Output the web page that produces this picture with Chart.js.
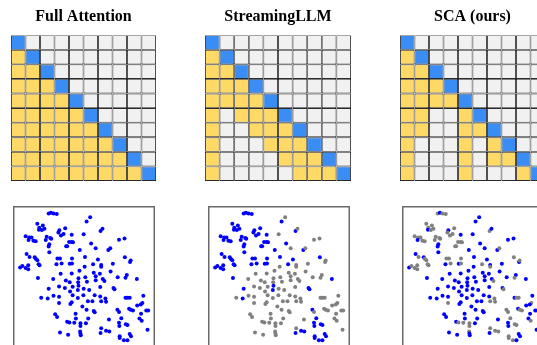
<!DOCTYPE html>
<html><head><meta charset="utf-8">
<script src="https://cdn.jsdelivr.net/npm/chart.js@4.4.0/dist/chart.umd.min.js"></script>
<style>
html,body{margin:0;padding:0;width:537px;height:345px;overflow:hidden;background:#fff;}
canvas{position:absolute;}
</style></head><body>
<canvas id="m0" width="145" height="181" style="left:11px;top:0px"></canvas>
<canvas id="m1" width="146" height="181" style="left:205px;top:0px"></canvas>
<canvas id="m2" width="145" height="181" style="left:400px;top:0px"></canvas>
<canvas id="s0" width="146" height="146" style="left:11px;top:204px"></canvas>
<canvas id="s1" width="146" height="146" style="left:206px;top:204px"></canvas>
<canvas id="s2" width="146" height="146" style="left:400px;top:204px"></canvas>
<script>
// ---- data ----
const panelTitles = ['Full Attention', 'StreamingLLM', 'SCA (ours)'];
const queryRows = ['q1','q2','q3','q4','q5','q6','q7','q8','q9','q10'];
const keyCols = ['k1','k2','k3','k4','k5','k6','k7','k8','k9','k10'];
// B = current token, Y = attended, . = masked
const fullMask = [
  'B.........',
  'YB........',
  'YYB.......',
  'YYYB......',
  'YYYYB.....',
  'YYYYYB....',
  'YYYYYYB...',
  'YYYYYYYB..',
  'YYYYYYYYB.',
  'YYYYYYYYYB'
];
const streamingMask = [
  'B.........',
  'YB........',
  'YYB.......',
  'YYYB......',
  'YYYYB.....',
  'Y.YYYB....',
  'Y..YYYB...',
  'Y...YYYB..',
  'Y....YYYB.',
  'Y.....YYYB'
];
const scaMask = [
  'B.........',
  'YB........',
  'YYB.......',
  'YYYB......',
  'YYYYB.....',
  'YY..YB....',
  'YY..YYB...',
  'Y...Y.YB..',
  'Y...Y.YYB.',
  'Y...Y...YB'
];
const tsneX = [113,120,128,138,230,241,78,95,84,83,92,100,146,143,151,159,164,221,273,279,
  42,53,60,51,66,73,107,104,118,121,184,176,184,188,170,167,115,113,115,244,
  258,330,347,209,297,303,45,54,70,73,78,82,85,25,32,42,50,50,140,148,
  137,153,185,178,185,225,224,208,265,250,275,275,348,364,366,311,150,184,252,271,
  304,354,80,127,166,178,205,204,226,231,258,258,280,285,326,350,385,113,145,163,
  187,179,205,203,221,238,272,313,316,90,110,128,145,145,187,203,220,234,180,184,
  248,255,272,288,290,275,350,356,363,405,402,397,386,414,217,230,252,255,133,139,
  196,197,235,170,177,192,325,330,361,366,373,398,420,299,337,330,351,356,393,400,
  148,173,211,211,210,211,212,228,275,290,300,273,331,332,332,345,356,363,367,418];
const tsneY = [26,24,26,28,51,38,58,63,70,76,77,73,78,85,94,89,72,90,80,73,
  96,100,100,108,110,112,98,108,102,104,92,114,114,115,127,127,121,128,146,119,
  133,107,103,139,139,133,151,160,161,166,170,183,186,193,188,194,186,198,165,165,
  183,180,165,181,180,160,190,203,168,183,185,190,161,176,171,181,212,211,209,212,
  205,216,225,228,233,238,226,238,223,237,220,232,228,234,223,224,228,258,251,256,
  252,267,249,262,258,262,253,256,260,286,288,280,283,302,278,287,278,297,305,300,
  297,278,282,288,298,297,286,286,286,280,302,307,310,325,313,323,327,331,337,345,
  335,350,350,360,362,363,323,330,320,323,325,335,325,353,349,363,368,370,350,357,
  393,400,365,373,390,396,402,365,380,388,390,395,373,405,410,417,417,398,405,385];
// 1 = token kept (blue), 0 = evicted (gray)
const streamingKept = [1,1,1,1,1,0,1,1,1,1,1,1,1,1,1,1,1,0,1,0,
  1,1,1,1,1,1,1,1,1,1,1,1,1,1,1,1,1,1,1,1,
  0,0,0,1,1,0,1,1,1,1,1,1,1,1,1,1,1,1,1,1,
  1,1,1,1,1,1,0,0,1,1,0,0,1,0,0,0,0,0,0,0,
  0,0,1,0,0,0,0,0,0,0,0,0,0,0,0,0,1,1,0,0,
  0,0,1,1,0,0,0,1,1,0,1,0,0,0,0,0,0,0,0,0,
  0,0,0,0,0,0,0,0,0,0,0,0,0,0,0,0,0,0,0,0,
  0,0,0,0,0,0,1,0,0,0,0,0,0,0,1,1,1,1,0,0,
  0,0,0,0,0,0,0,0,0,1,1,1,1,1,1,1,1,1,1,0];
const scaKept = [0,1,0,0,1,1,0,0,0,1,0,0,1,0,0,0,0,1,0,1,
  0,0,0,1,0,0,0,0,0,0,1,0,0,0,0,0,1,1,1,1,
  1,1,1,1,1,0,1,0,1,0,0,0,0,1,0,0,0,0,0,0,
  1,0,0,1,0,1,1,1,1,0,1,0,0,1,0,1,1,1,1,1,
  1,1,1,1,1,1,1,1,1,1,1,1,1,0,1,0,1,1,1,1,
  1,1,1,1,1,1,1,1,0,1,1,1,1,0,1,1,1,1,1,1,
  1,1,1,0,0,0,1,0,0,1,0,1,1,1,1,1,1,1,1,1,
  1,1,1,1,0,0,0,0,1,0,0,1,1,1,0,1,0,0,1,0,
  1,1,0,0,0,1,1,1,0,0,0,1,1,0,0,0,1,1,1,1];

// ---- styles ----
const cellColors = { 'B': '#3a8df5', 'Y': '#ffd966', '.': '#f1f1f1' };
const dotBlue = '#0000ff', dotGray = '#808080';

function matrixChart(id, title, mask) {
  const datasets = keyCols.map((k, j) => ({
    label: k,
    data: queryRows.map(() => 1),
    backgroundColor: mask.map(r => cellColors[r[j]]),
    borderColor: '#2a2a2a',
    borderWidth: 0.9,
    borderSkipped: false,
    inflateAmount: 0,
    barPercentage: 1,
    categoryPercentage: 1
  }));
  new Chart(document.getElementById(id), {
    type: 'bar',
    data: { labels: queryRows, datasets },
    options: {
      indexAxis: 'y', responsive: false, animation: false, devicePixelRatio: 1, events: [],
      layout: { padding: 0 },
      plugins: {
        legend: { display: false }, tooltip: { enabled: false },
        title: { display: true, text: title, color: '#000',
          font: { family: 'Liberation Serif', size: 16, weight: 'bold' },
          padding: { top: 7, bottom: 9 } }
      },
      scales: {
        x: { stacked: true, min: 0, max: 10, display: false },
        y: { stacked: true, display: false }
      }
    }
  });
}

const framePlugin = {
  id: 'frame',
  afterDraw(chart, args, opts) {
    const { ctx, chartArea: a } = chart;
    ctx.save();
    ctx.strokeStyle = opts.color; ctx.lineWidth = opts.width;
    ctx.strokeRect(a.left + opts.width / 2, a.top + opts.width / 2, a.width - opts.width, a.height - opts.width);
    ctx.restore();
  }
};

function scatterChart(id, kept) {
  new Chart(document.getElementById(id), {
    type: 'scatter',
    data: { datasets: [{
      data: tsneX.map((x, i) => ({ x, y: tsneY[i] })),
      backgroundColor: tsneX.map((_, i) => (kept ? kept[i] : 1) ? dotBlue : dotGray),
      pointRadius: 2, pointBorderWidth: 0, pointHoverRadius: 0
    }] },
    options: {
      responsive: false, animation: false, devicePixelRatio: 1, events: [],
      layout: { padding: 0 },
      plugins: { legend: { display: false }, tooltip: { enabled: false },
        frame: { color: '#6a6a6a', width: 1.5 } },
      scales: {
        x: { type: 'linear', min: 3, max: 441, display: false },
        y: { type: 'linear', min: 3, max: 441, reverse: true, display: false }
      }
    },
    plugins: [framePlugin]
  });
}

matrixChart('m0', panelTitles[0], fullMask);
matrixChart('m1', panelTitles[1], streamingMask);
matrixChart('m2', panelTitles[2], scaMask);
scatterChart('s0', null);
scatterChart('s1', streamingKept);
scatterChart('s2', scaKept);
</script>
</body></html>
